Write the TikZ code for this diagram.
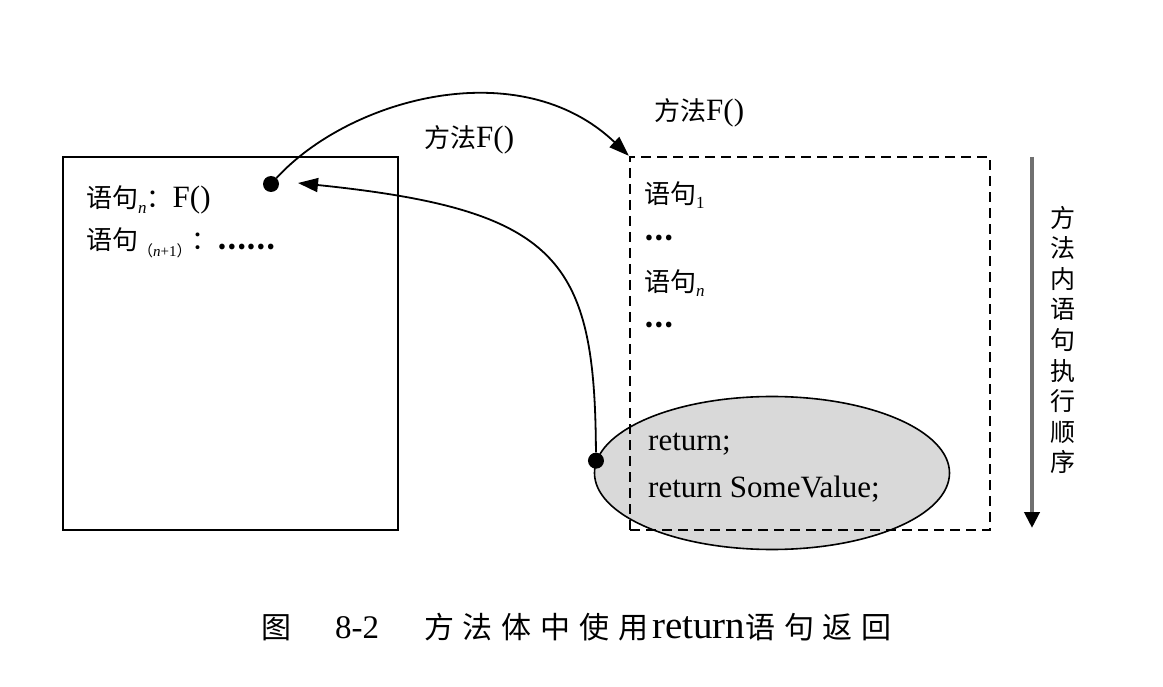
\documentclass[tikz,border=0pt]{standalone}
\usepackage{fontspec}
\setmainfont{Liberation Serif}
\newfontfamily\cjk{Noto Sans CJK SC}
\usetikzlibrary{arrows.meta,shapes.geometric}
\newcommand\mysub[1]{\raisebox{-0.4ex}{\fontsize{17}{17}\selectfont #1}}
\newcommand\cs{\hspace{8.8pt}}
\definecolor{ellfill}{HTML}{D9D9D9}
\definecolor{vgray}{HTML}{707070}
\begin{document}
\begin{tikzpicture}[x=1pt,y=-1pt,
  solidbox/.style={draw,line width=1.8pt,minimum width=335pt,minimum height=373pt,inner sep=0pt},
  dashbox/.style={draw,line width=2.4pt,dash pattern=on 10pt off 6pt,minimum width=360pt,minimum height=373pt,inner sep=0pt},
  retell/.style={ellipse,draw,line width=1.6pt,fill=ellfill,minimum width=355pt,minimum height=153pt,inner sep=0pt},
  dotnode/.style={circle,fill=black,minimum size=16pt,inner sep=0pt},
  conn/.style={line width=1.8pt,-{Triangle[length=20pt,width=14pt]}},
  txt/.style={anchor=west,inner sep=0pt,font=\fontsize{31}{36}\selectfont},
  cjktxt/.style={inner sep=0pt,font=\fontsize{26}{30}\selectfont\cjk},
]
\useasboundingbox[fill=white] (0,0) rectangle (1163,687);

% boxes
\node[solidbox] (caller) at (230.5,343.5) {};
\node[retell] (ret) at (772,473) {};
\node[dashbox] (method) at (810,343.5) {};

% dots
\node[dotnode] (d1) at (271,184) {};
\node[dotnode] (d2) at (ret.176) {};
\coordinate (tip2) at (298,183);

% texts in caller box
\node[txt] (l1) at (86,200) {{\cjk\fontsize{26}{30}\selectfont 语句}\mysub{\itshape n}{\cjk\fontsize{26}{30}\selectfont ：}F()};
\node[txt] (l2) at (86,243) {{\cjk\fontsize{26}{30}\selectfont 语句}\raisebox{-0.45ex}{\fontsize{15}{15}\selectfont{\cjk （}\textit{n}+1{\cjk ）}}{\cjk\fontsize{26}{30}\selectfont ：\textbf{……}}};

% texts in method box
\node[txt] (m1) at (644,195) {{\cjk\fontsize{26}{30}\selectfont 语句}\mysub{1}};
\node[txt] (m2) at (644,238) {{\cjk\fontsize{26}{30}\selectfont\bfseries …}};
\node[txt] (m3) at (644,283) {{\cjk\fontsize{26}{30}\selectfont 语句}\mysub{\itshape n}};
\node[txt] (m4) at (644,325) {{\cjk\fontsize{26}{30}\selectfont\bfseries …}};

% texts in ellipse
\node[txt] (r1) at (648,444) {return;};
\node[txt] (r2) at (648,489) {return SomeValue;};

% labels
\node[txt] (lab1) at (424,140) {{\cjk\fontsize{26}{30}\selectfont 方法}F()};
\node[txt] (lab2) at (654,113) {{\cjk\fontsize{26}{30}\selectfont 方法}F()};

% connectors
\draw[conn] (d1) .. controls (350,98) and (520,52) .. (method.north west);
\draw[conn] (d2) .. controls (595,260) and (560,210) .. (tip2);

% execution order arrow
\coordinate (vtop) at (1032,157);
\coordinate (vbot) at (1032,528);
\draw[line width=4pt,vgray,-{Triangle[length=16pt,width=15pt,color=black]}] (vtop) -- (vbot);
\node[cjktxt,align=center,font=\fontsize{25}{30.6}\selectfont\cjk] (order) at (1063,340) {方\\法\\内\\语\\句\\执\\行\\顺\\序};

% caption
\node[anchor=west,inner sep=0pt,font=\fontsize{33}{36}\selectfont] (cap) at (261,627)
  {{\cjk\fontsize{30}{34}\selectfont 图}\hspace{44pt}8-2\hspace{45pt}{\cjk\fontsize{30}{34}\selectfont 方\cs 法\cs 体\cs 中\cs 使\cs 用}\hspace{4pt}{\fontsize{39}{39}\selectfont return}{\cjk\fontsize{30}{34}\selectfont 语\cs 句\cs 返\cs 回}};
\end{tikzpicture}
\end{document}
